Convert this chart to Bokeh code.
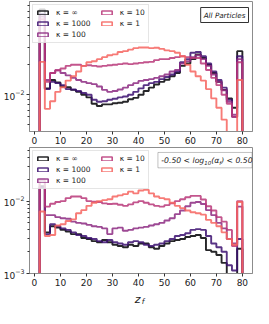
import numpy as np
from bokeh.plotting import figure
from bokeh.models import (Range1d, Legend, LegendItem, Label, BoxAnnotation,
                          FixedTicker, LogTickFormatter)
from bokeh.layouts import column
from bokeh.embed import file_html
from bokeh.resources import INLINE

# ---------------- data ----------------
bin_edges = list(range(2, 82, 2))          # 2 .. 80, 39 bins
x_ticks = [0, 10, 20, 30, 40, 50, 60, 70, 80]
y_major = [1e-3, 1e-2, 1e-1]
y_minor = [m * 10.0 ** e for e in (-4, -3, -2, -1) for m in range(2, 10)]
kappa_labels = ["κ = ∞", "κ = 1000", "κ = 100", "κ = 10", "κ = 1"]
colors = ["#000004", "#3b0f70", "#8c2981", "#b83779", "#f6645f"]

top_inf = [0.0728, 0.0116, 0.0141, 0.0133, 0.0121, 0.0119, 0.0112, 0.0107, 0.0100, 0.0094,
           0.0081, 0.0077, 0.0080, 0.0080, 0.0082, 0.0083, 0.0085, 0.0090, 0.0093, 0.0100,
           0.0109, 0.0118, 0.0127, 0.0135, 0.0142, 0.0154, 0.0166, 0.0196, 0.0207, 0.0229,
           0.0256, 0.0235, 0.0201, 0.0166, 0.0135, 0.0112, 0.0092, 0.0074, 0.0276]
top_1000 = [0.0656, 0.0114, 0.0135, 0.0131, 0.0125, 0.0114, 0.0113, 0.0109, 0.0104, 0.0100,
            0.0089, 0.0085, 0.0086, 0.0089, 0.0091, 0.0094, 0.0096, 0.0100, 0.0107, 0.0116,
            0.0125, 0.0131, 0.0135, 0.0144, 0.0151, 0.0160, 0.0172, 0.0213, 0.0229, 0.0266,
            0.0271, 0.0245, 0.0207, 0.0172, 0.0141, 0.0118, 0.0089, 0.0060, 0.0245]
top_100 = [0.0619, 0.0141, 0.0166, 0.0177, 0.0166, 0.0157, 0.0148, 0.0141, 0.0135, 0.0131,
           0.0128, 0.0121, 0.0112, 0.0107, 0.0109, 0.0113, 0.0118, 0.0125, 0.0131, 0.0138,
           0.0141, 0.0144, 0.0148, 0.0154, 0.0160, 0.0172, 0.0178, 0.0207, 0.0218, 0.0240,
           0.0251, 0.0229, 0.0196, 0.0160, 0.0135, 0.0111, 0.0085, 0.0063, 0.0229]
top_10 = [0.0580, 0.0135, 0.0166, 0.0177, 0.0184, 0.0196, 0.0201, 0.0201, 0.0196, 0.0199,
          0.0196, 0.0193, 0.0196, 0.0199, 0.0201, 0.0204, 0.0207, 0.0204, 0.0207, 0.0210,
          0.0213, 0.0215, 0.0224, 0.0229, 0.0229, 0.0235, 0.0240, 0.0245, 0.0240, 0.0235,
          0.0235, 0.0207, 0.0178, 0.0148, 0.0125, 0.0100, 0.0081, 0.0060, 0.0213]
top_1 = [0.0215, 0.0072, 0.0086, 0.0107, 0.0119, 0.0139, 0.0154, 0.0172, 0.0196, 0.0213,
         0.0218, 0.0229, 0.0240, 0.0251, 0.0256, 0.0271, 0.0276, 0.0286, 0.0296, 0.0301,
         0.0301, 0.0296, 0.0299, 0.0291, 0.0281, 0.0276, 0.0266, 0.0245, 0.0201, 0.0172,
         0.0154, 0.0139, 0.0114, 0.0092, 0.0074, 0.0056, 0.0, 0.0, 0.0141]

bot_inf = [0.016, 0.0037, 0.0045, 0.0043, 0.0040, 0.0038, 0.0035, 0.0035, 0.0031, 0.0030,
           0.0028, 0.0027, 0.0029, 0.0027, 0.0025, 0.0024, 0.0023, 0.0025, 0.0024, 0.0026,
           0.0026, 0.0023, 0.0022, 0.0024, 0.0026, 0.0028, 0.0029, 0.0030, 0.0032, 0.0033,
           0.0034, 0.0031, 0.0021, 0.0020, 0.0018, 0.0014, 0.0008, 0.0006, 0.0022]
bot_1000 = [0.0155, 0.0035, 0.0048, 0.0045, 0.0042, 0.0040, 0.0037, 0.0034, 0.0033, 0.0031,
            0.0030, 0.0028, 0.0027, 0.0029, 0.0027, 0.0026, 0.0025, 0.0027, 0.0028, 0.0027,
            0.0025, 0.0024, 0.0025, 0.0026, 0.0028, 0.0030, 0.0033, 0.0034, 0.0036, 0.0040,
            0.0041, 0.0040, 0.0033, 0.0026, 0.0023, 0.0020, 0.0013, 0.0011, 0.0030]
bot_100 = [0.019, 0.0064, 0.0064, 0.0060, 0.0058, 0.0057, 0.0052, 0.0050, 0.0049, 0.0047,
           0.0045, 0.0044, 0.0042, 0.0035, 0.0042, 0.0043, 0.0039, 0.0040, 0.0042, 0.0043,
           0.0044, 0.0046, 0.0048, 0.0050, 0.0054, 0.0058, 0.0066, 0.0074, 0.0085, 0.0095,
           0.0097, 0.0091, 0.0075, 0.0064, 0.0050, 0.0042, 0.0030, 0.0026, 0.0084]
bot_10 = [0.020, 0.0084, 0.0092, 0.0097, 0.0100, 0.0110, 0.0116, 0.0116, 0.0110, 0.0100,
          0.0098, 0.0097, 0.0093, 0.0091, 0.0092, 0.0089, 0.0086, 0.0090, 0.0096, 0.0100,
          0.0095, 0.0090, 0.0086, 0.0084, 0.0088, 0.0093, 0.0100, 0.0106, 0.0113, 0.0118,
          0.0118, 0.0105, 0.0085, 0.0074, 0.0060, 0.0052, 0.0040, 0.0024, 0.0100]
bot_1 = [0.0072, 0.0033, 0.0034, 0.0046, 0.0048, 0.0053, 0.0056, 0.0068, 0.0075, 0.0086,
         0.0095, 0.0100, 0.0103, 0.0106, 0.0116, 0.0120, 0.0125, 0.0135, 0.0128, 0.0140,
         0.0143, 0.0128, 0.0116, 0.0110, 0.0106, 0.0095, 0.0086, 0.0080, 0.0074, 0.0070,
         0.0068, 0.0065, 0.0055, 0.0050, 0.0045, 0.0037, 0.0030, 0.0025, 0.0097]

top_series = [top_inf, top_1000, top_100, top_10, top_1]
bot_series = [bot_inf, bot_1000, bot_100, bot_10, bot_1]

# ---------------- layout constants ----------------
W = 253
BL, BR = 19, 1
X_RANGE = (-1.9, 83.9)
FLOOR = 1e-6
FONT = "DejaVu Sans"
FRAME_COLOR = "#8c8c8c"
NBSP = "\u00a0"


def step_outline(edges, vals):
    xs = [edges[0]]
    ys = [FLOOR]
    for i, v in enumerate(vals):
        vv = v if v > 0 else FLOOR
        xs += [edges[i], edges[i + 1]]
        ys += [vv, vv]
    xs.append(edges[-1])
    ys.append(FLOOR)
    return xs, ys


def make_panel(series, y_lo, y_hi, height, bt, bb):
    p = figure(width=W, height=height, y_axis_type="log",
               x_range=Range1d(*X_RANGE), y_range=Range1d(y_lo, y_hi),
               output_backend="svg", toolbar_location=None,
               min_border_left=BL, min_border_right=BR,
               min_border_top=bt, min_border_bottom=bb)
    p.xgrid.visible = False
    p.ygrid.visible = False
    p.outline_line_color = FRAME_COLOR
    p.outline_line_width = 1
    p.background_fill_color = "white"
    p.border_fill_color = "white"

    p.xaxis.ticker = FixedTicker(ticks=x_ticks)
    p.yaxis.ticker = FixedTicker(ticks=y_major, minor_ticks=y_minor)
    p.yaxis.formatter = LogTickFormatter()
    for ax in (p.xaxis[0], p.yaxis[0]):
        ax.axis_line_color = FRAME_COLOR
        ax.major_tick_line_color = "#333333"
        ax.minor_tick_line_color = "#333333"
        ax.major_tick_in = 0
        ax.major_tick_out = 3
        ax.minor_tick_in = 0
        ax.minor_tick_out = 2
        ax.major_label_text_font = FONT
        ax.major_label_text_font_size = "9px"
        ax.major_label_text_color = "#222222"
        ax.major_label_standoff = 2
    p.xaxis.minor_tick_line_color = None

    items = []
    nan = float("nan")
    for vals, col, lab in zip(series, colors, kappa_labels):
        xs, ys = step_outline(bin_edges, vals)
        p.line(xs, ys, line_color=col, line_width=1.9, line_alpha=0.85)
        proxy = p.quad(left=[nan], right=[nan], top=[nan], bottom=[nan], fill_alpha=0,
                       line_color=col, line_width=1.6, line_alpha=0.85)
        if lab == "κ = 1000":
            lab = lab + NBSP * 3
        items.append(LegendItem(label=lab, renderers=[proxy]))

    leg = Legend(items=items, location="top_left", nrows=3,
                 orientation="vertical",
                 glyph_width=13, glyph_height=5, label_standoff=7,
                 label_height=8, spacing=2,
                 padding=3, margin=3,
                 label_text_font=FONT, label_text_font_size="7.5px",
                 label_text_color="#222222",
                 border_line_color="#cccccc", border_line_width=1,
                 background_fill_alpha=0.8)
    p.add_layout(leg)
    return p


# ---------------- top panel ----------------
T_LO, T_HI = 0.00425, 0.0877
top = make_panel(top_series, T_LO, T_HI, 146, 1, 15)
top.add_layout(Label(x=X_RANGE[1], y=T_HI, x_offset=-4, y_offset=-6,
                     text="All Particles", text_align="right", text_baseline="top",
                     text_font=FONT, text_font_size="7.2px", text_font_style="italic",
                     text_color="#222222", padding=3,
                     border_line_color="#333333", border_line_width=1,
                     background_fill_color="white"))

# ---------------- bottom panel ----------------
B_LO, B_HI = 1e-3, 0.055
B_H, B_BT, B_BB = 142, 1, 14
bot = make_panel(bot_series, B_LO, B_HI, B_H, B_BT, B_BB)

frame_w = W - BL - BR
ppu = frame_w / (X_RANGE[1] - X_RANGE[0])
frame_h = B_H - B_BT - B_BB
ppd = frame_h / (np.log10(B_HI) - np.log10(B_LO))

pad = 3.5
pieces = [("-0.50 < log", 7.7, 5.586, 0.0),
          ("10", 5.4, 1.272, -2.5),
          ("(α", 7.7, 1.049, 0.0),
          ("f", 5.4, 0.352, -2.5),
          (") < 0.50", 7.7, 4.09, 0.0)]
tx = 48.8
total = sum(em * fs for _, fs, em, _ in pieces)
box = BoxAnnotation(left=tx - pad / ppu, right=tx + (total + pad) / ppu,
                    top=B_HI / 10 ** (5 / ppd), bottom=B_HI / 10 ** (20.5 / ppd),
                    fill_color="white", fill_alpha=1.0,
                    line_color="#333333", line_width=1)
bot.add_layout(box)
off = 0.0
for txt, fs, em, dy in pieces:
    bot.add_layout(Label(x=tx, y=B_HI, x_offset=off, y_offset=-12.8 + dy,
                         text=txt, text_align="left", text_baseline="middle",
                         text_font=FONT, text_font_size=f"{fs}px",
                         text_font_style="italic", text_color="#222222"))
    off += em * fs

# ---------------- x-axis label strip: z_f ----------------
S_H = 20
lab_fig = figure(width=W, height=S_H, x_range=Range1d(*X_RANGE), y_range=Range1d(0, S_H),
                 x_axis_type=None, y_axis_type=None,
                 output_backend="svg", toolbar_location=None,
                 min_border_left=BL, min_border_right=BR,
                 min_border_top=0, min_border_bottom=0)
lab_fig.outline_line_color = None
lab_fig.xgrid.visible = False
lab_fig.ygrid.visible = False
lab_fig.add_layout(Label(x=40.5, y=9, x_offset=-2, text="z",
                         text_align="center", text_baseline="middle",
                         text_font=FONT, text_font_size="11px", text_font_style="italic",
                         text_color="#222222"))
lab_fig.add_layout(Label(x=40.5, y=7, x_offset=2, text="f",
                         text_align="left", text_baseline="middle",
                         text_font=FONT, text_font_size="7.5px", text_font_style="italic",
                         text_color="#222222"))

layout = column(top, bot, lab_fig, spacing=0)
open("out.html", "w").write(file_html(layout, INLINE))
